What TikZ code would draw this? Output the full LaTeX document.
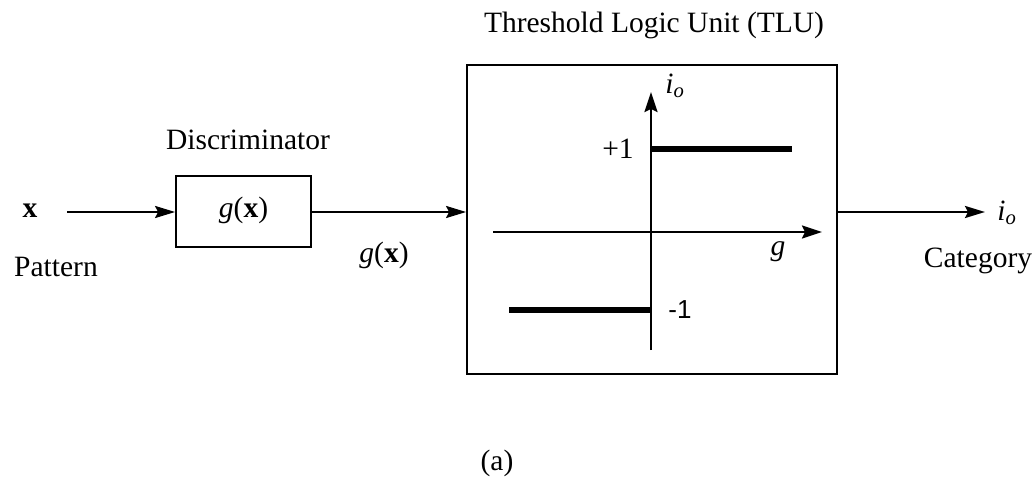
\documentclass[tikz,border=0pt]{standalone}
\usepackage{fontspec}
\setmainfont{Liberation Serif}
\newfontfamily\sansf{Liberation Sans}
\usetikzlibrary{arrows.meta}
\begin{document}
\begin{tikzpicture}[x=1pt,y=-1pt,
  lbl/.style={inner sep=0pt,font=\fontsize{29.5}{32}\selectfont},
  blk/.style={draw,line width=1.8pt,inner sep=0pt},
  conn/.style={line width=2.3pt,-{Stealth[length=20pt,width=12pt,inset=3pt]}},
  axis/.style={line width=2.3pt,-{Stealth[length=20pt,width=13pt,inset=3pt]}},
  step line/.style={line width=6pt}]
\useasboundingbox (0,0) rectangle (1034,484);
% blocks
\node[blk,minimum width=135pt,minimum height=71pt] (disc) at (243.5,211.5) {};
\node[lbl] (gx) at (243.5,210) {\textit{g}(\textbf{x})};
\node[blk,minimum width=370pt,minimum height=309pt] (tlu) at (652,219.5) {};
% labels
\node[lbl] (xin) at (30,211) {\textbf{x}};
\node[lbl] (pat) at (56,267) {Pattern};
\node[lbl] (dlab) at (248,140) {Discriminator};
\node[lbl] (gxo) at (384,255) {\textit{g}(\textbf{x})};
\node[lbl] (title) at (654,25) {Threshold Logic Unit (TLU)};
\node[lbl] (io) at (1007,213) {\textit{i}\textsubscript{\textit{o}}};
\node[lbl] (cat) at (978,261) {Category};
\node[lbl] (cap) at (497,463) {(a)};
% connectors
\coordinate (xs) at (67,212);
\draw[conn] (xs) -- (disc.west |- xs);
\draw[conn] (disc.east |- xs) -- (tlu.west |- xs);
\coordinate (oe) at (985,212);
\draw[conn] (tlu.east |- oe) -- (oe);
% axes
\coordinate (vb) at (651,350);
\coordinate (vt) at (651,92);
\coordinate (hl) at (493,232);
\coordinate (hr) at (822,232);
\draw[axis] (vb) -- (vt);
\draw[axis] (hl) -- (hr);
\node[lbl] (iol) at (675,86) {\textit{i}\textsubscript{\textit{o}}};
\node[lbl] (gl) at (778,252) {\textit{g}};
% step
\coordinate (p1a) at (651,149);
\coordinate (p1b) at (792,149);
\coordinate (m1a) at (509,310);
\coordinate (m1b) at (651,310);
\draw[step line] (p1a) -- (p1b);
\draw[step line] (m1a) -- (m1b);
\node[lbl] (plus) at (618,149) {+1};
\node[lbl,font=\sansf\fontsize{26}{28}\selectfont] (minus) at (680,310) {-1};
\end{tikzpicture}
\end{document}
